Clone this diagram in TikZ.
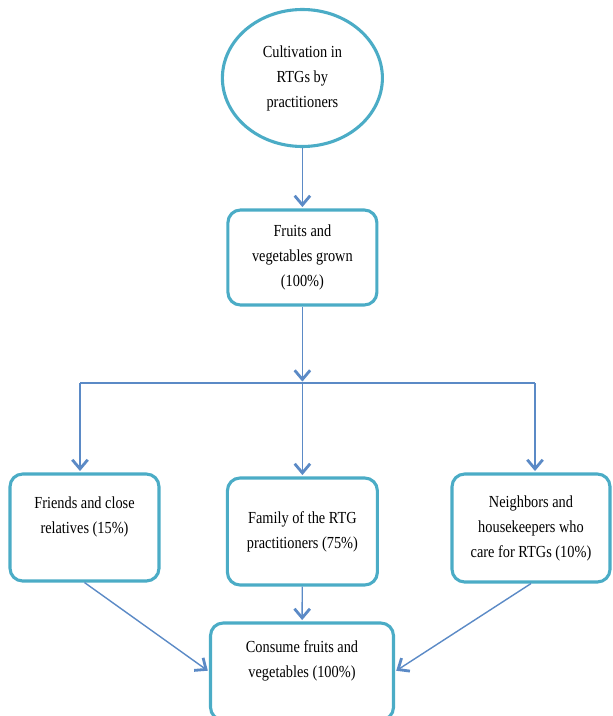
\documentclass[tikz,border=0pt]{standalone}
\usepackage{fontspec}
\setmainfont{Liberation Serif}[FakeStretch=0.85]
\usetikzlibrary{shapes.geometric,arrows.meta}
\definecolor{boxline}{RGB}{75,172,198}
\definecolor{arrowline}{RGB}{91,138,198}

\begin{document}
\begin{tikzpicture}[thick,
	box/.style={draw=boxline, line width=2.2pt, rounded corners=9pt, align=center, font=\fontsize{12}{17.8}\selectfont},
	oval/.style={box, ellipse, rounded corners=0pt},
	link/.style={draw=arrowline, line width=1pt},
	flow/.style={link, shorten >=1pt, -{Straight Barb[length=6.5pt,width=11pt,line width=2pt]}}]
	\useasboundingbox (0,0) rectangle (15.3,-17.9);
	\node[oval, minimum width=4cm, minimum height=3.425cm] (cult) at (7.56,-1.95) {Cultivation in\\RTGs by\\practitioners};
	\node[box, minimum width=3.725cm, minimum height=2.375cm] (grown) at (7.56,-6.4375) {Fruits and\\vegetables grown\\(100\%)};
	\node[box, minimum width=3.725cm, minimum height=2.675cm] (friends) at (2.1125,-13.1875) {Friends and close\\relatives (15\%)\\\phantom{X}};
	\node[box, minimum width=3.75cm, minimum height=2.675cm] (family) at (7.56,-13.2875) {Family of the RTG\\practitioners (75\%)};
	\node[box, minimum width=3.95cm, minimum height=2.7cm] (neighbors) at (13.275,-13.2) {Neighbors and\\housekeepers who\\care for RTGs (10\%)};
	\node[box, minimum width=4.575cm, minimum height=2.425cm] (consume) at (7.55,-16.7875) {Consume fruits and\\vegetables (100\%)\\\phantom{X}};
	\coordinate (split) at (7.56,-9.575);
	\coordinate (lft) at (2.0,-9.575);
	\coordinate (rgt) at (13.375,-9.575);
	\draw[flow] (cult) -- (grown);
	\draw[flow] (grown) -- (split);
	\draw[link] (lft) -- (rgt);
	\draw[flow] (lft) -- (lft |- friends.north);
	\draw[flow] (split) -- (family);
	\draw[flow] (rgt) -- (rgt |- neighbors.north);
	\draw[flow] (friends.south) -- (consume.west);
	\draw[flow] (family) -- (consume);
	\draw[flow] (neighbors.south) -- (consume.east);
\end{tikzpicture}
\end{document}
